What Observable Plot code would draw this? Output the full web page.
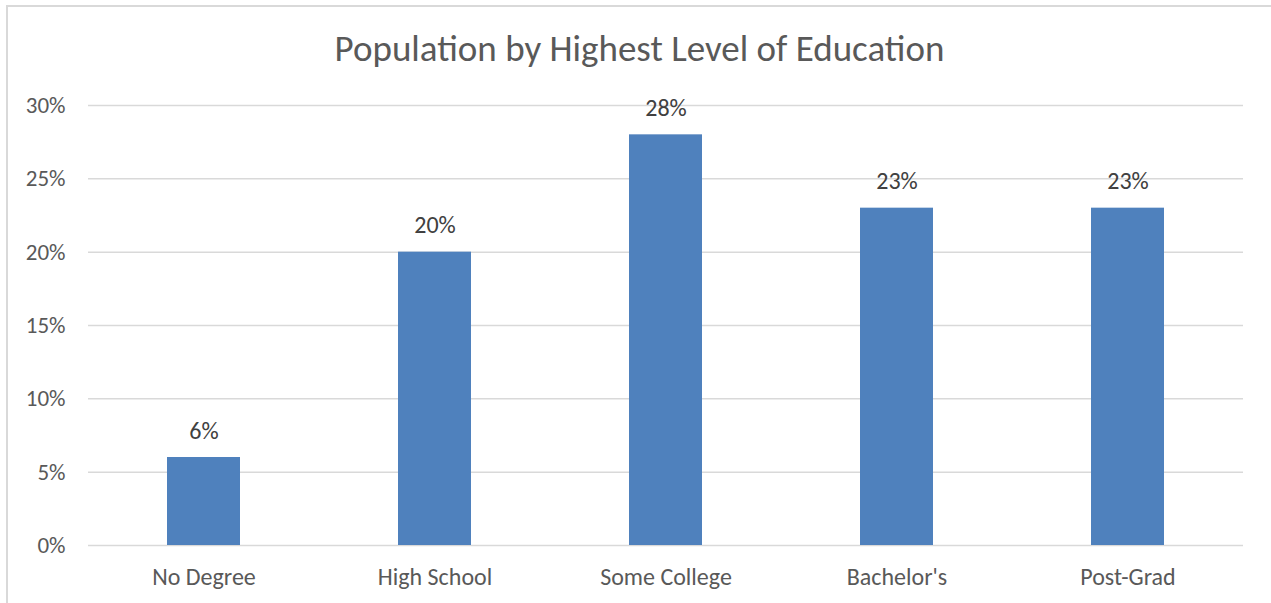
<!DOCTYPE html>
<html>
<head>
<meta charset="utf-8">
<script src="https://cdn.jsdelivr.net/npm/d3@7"></script>
<script src="https://cdn.jsdelivr.net/npm/@observablehq/plot@0.6"></script>
<style>
  html, body { margin: 0; padding: 0; background: #fff; }
  #frame {
    position: relative;
    width: 1271px;
    height: 603px;
    overflow: hidden;
    font-family: Carlito, Lato, "Open Sans", sans-serif;
  }
  #border {
    position: absolute;
    left: 6px; top: 5px;
    width: 1300px; height: 640px;
    border-top: 2px solid #d9d9d9;
    border-left: 2px solid #d9d9d9;
    box-sizing: border-box;
  }
  #title {
    position: absolute;
    left: 0; width: 1279px; top: 29px;
    text-align: center;
    font-size: 37px;
    color: #595959;
    line-height: 40px;
  }
  #chart { position: absolute; left: 0; top: 0; }
</style>
</head>
<body>
<div id="frame">
  <div id="border"></div>
  <div id="title">Population by Highest Level of Education</div>
  <div id="chart"></div>
</div>
<script>
// Share of population by highest completed level of education
const levels = ["No Degree", "High School", "Some College", "Bachelor's", "Post-Grad"];
const shares = [0.06, 0.20, 0.28, 0.23, 0.23];
const yTicks = [0, 0.05, 0.10, 0.15, 0.20, 0.25, 0.30];

const data = levels.map((level, i) => ({level, share: shares[i]}));
const pct = d3.format(".0%");

const chart = Plot.plot({
  width: 1271,
  height: 603,
  marginLeft: 88,
  marginRight: 28,
  marginTop: 105,
  marginBottom: 58,
  style: {fontFamily: "Carlito, Lato, 'Open Sans', sans-serif", background: "transparent"},
  x: {domain: levels, paddingInner: 0.684, paddingOuter: 0.342, label: null},
  y: {domain: [0, 0.30], label: null},
  marks: [
    Plot.ruleY(yTicks, {stroke: "#d9d9d9", strokeWidth: 1.5, strokeOpacity: 1}),
    Plot.barY(data, {x: "level", y: "share", fill: "#4f81bd"}),
    Plot.text(data, {
      x: "level", y: "share", text: d => pct(d.share),
      dy: -19, lineAnchor: "bottom", fontSize: 24, fill: "#404040"
    }),
    Plot.axisY(yTicks, {
      tickSize: 0, tickPadding: 23, tickFormat: pct,
      fontSize: 23, color: "#595959", label: null
    }),
    Plot.axisX({
      tickSize: 0, tickPadding: 22, fontSize: 24, color: "#595959", label: null
    })
  ]
});
document.getElementById("chart").appendChild(chart);
</script>
</body>
</html>
